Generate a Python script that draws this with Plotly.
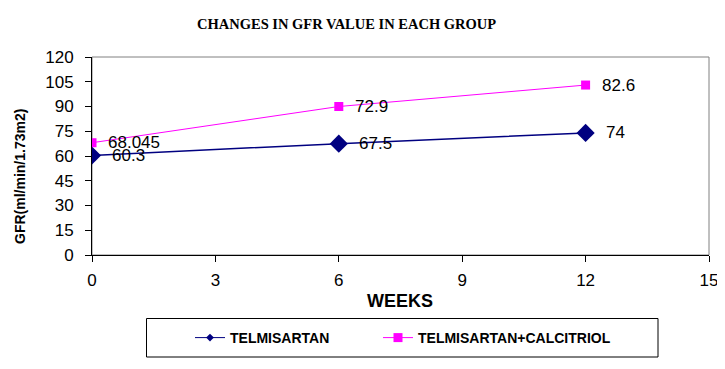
import plotly.graph_objects as go

weeks = [0, 6, 12]
telmisartan = [60.3, 67.5, 74]
telmisartan_labels = ["60.3", "67.5", "74"]
combo = [68.045, 90.0, 103.0]
combo_labels = ["68.045", "72.9", "82.6"]

x_ticks = [0, 3, 6, 9, 12, 15]
y_ticks = [0, 15, 30, 45, 60, 75, 90, 105, 120]

# the page body has an 8px margin, so the figure is drawn 8px smaller and
# all target pixel positions below are given in window coordinates minus 8
OFF = 8
W, H = 725 - OFF, 369 - OFF
L, R, T, B = 92 - OFF, 709 - OFF, 57 - OFF, 255 - OFF  # plot area


def px(x):
    return (x - OFF - L) / (R - L)


def py(y):
    return (B - (y - OFF)) / (B - T)


fig = go.Figure()
fig.add_trace(go.Scatter(
    x=weeks, y=telmisartan, name="TELMISARTAN", mode="lines+markers",
    line=dict(color="#000080", width=1.5),
    marker=dict(symbol="diamond", size=14, color="#000080"),
    showlegend=False,
))
fig.add_trace(go.Scatter(
    x=weeks, y=combo, name="TELMISARTAN+CALCITRIOL", mode="lines+markers",
    line=dict(color="#FF00FF", width=1),
    marker=dict(symbol="square", size=9, color="#FF00FF"),
    showlegend=False,
))
# legend entries (smaller symbols as in the reference legend)
fig.add_trace(go.Scatter(
    x=[None], y=[None], name="<b>TELMISARTAN</b>", mode="lines+markers",
    line=dict(color="#000080", width=1),
    marker=dict(symbol="diamond", size=6, color="#000080"),
    legend="legend",
))
fig.add_trace(go.Scatter(
    x=[None], y=[None], name="<b>TELMISARTAN+CALCITRIOL</b>", mode="lines+markers",
    line=dict(color="#FF00FF", width=1),
    marker=dict(symbol="square", size=9, color="#FF00FF"),
    legend="legend2",
))

annotations = []
for xv, yv, t in zip(weeks, telmisartan, telmisartan_labels):
    annotations.append(dict(x=xv, y=yv, text=t, xref="x", yref="y", showarrow=False,
                            xanchor="left", yanchor="middle", xshift=18,
                            font=dict(family="Arial", size=17, color="black")))
for xv, yv, t in zip(weeks, combo, combo_labels):
    annotations.append(dict(x=xv, y=yv, text=t, xref="x", yref="y", showarrow=False,
                            xanchor="left", yanchor="middle", xshift=14,
                            font=dict(family="Arial", size=17, color="black")))

annotations.append(dict(text="<b>CHANGES IN GFR VALUE IN EACH GROUP</b>", xref="paper", yref="paper",
                        x=px(346), y=py(24), showarrow=False,
                        xanchor="center", yanchor="middle",
                        font=dict(family="Liberation Serif", size=14.5, color="black")))
annotations.append(dict(text="<b>GFR(ml/min/1.73m2)</b>", xref="paper", yref="paper",
                        x=px(20), y=py(177), showarrow=False,
                        xanchor="center", yanchor="middle", textangle=-90,
                        font=dict(family="Arial", size=14, color="black")))
annotations.append(dict(text="<b>WEEKS</b>", xref="paper", yref="paper",
                        x=px(400), y=py(301), showarrow=False,
                        xanchor="center", yanchor="middle",
                        font=dict(family="Arial", size=18, color="black")))

shapes = [
    dict(type="rect", xref="paper", yref="paper", x0=0, x1=1, y0=0, y1=1,
         line=dict(color="#808080", width=1), layer="below"),
    dict(type="rect", xref="paper", yref="paper",
         x0=px(146.5), x1=px(658), y0=py(357), y1=py(318.5),
         line=dict(color="black", width=1), fillcolor="rgba(0,0,0,0)"),
]

legend_font = dict(family="Arial", size=14, color="black")
fig.update_layout(
    width=W, height=H,
    margin=dict(l=L, r=W - R, t=T, b=H - B, autoexpand=False),
    paper_bgcolor="white", plot_bgcolor="white",
    showlegend=True,
    legend=dict(xref="container", yref="container", x=(190 - OFF) / W, y=1 - (338 - OFF) / H,
                xanchor="left", yanchor="middle", orientation="h",
                font=legend_font, bgcolor="rgba(0,0,0,0)", borderwidth=0),
    legend2=dict(xref="container", yref="container", x=(378 - OFF) / W, y=1 - (338 - OFF) / H,
                 xanchor="left", yanchor="middle", orientation="h",
                 font=legend_font, bgcolor="rgba(0,0,0,0)", borderwidth=0),
    annotations=annotations,
    shapes=shapes,
    xaxis=dict(range=[0, 15], tickvals=x_ticks, ticktext=[str(v) for v in x_ticks],
               showgrid=False, zeroline=False, showline=True, linecolor="black", linewidth=1,
               ticks="outside", ticklen=6, tickcolor="black", ticklabelstandoff=4,
               tickfont=dict(family="Arial", size=17, color="black")),
    yaxis=dict(range=[0, 120], tickvals=y_ticks, ticktext=[str(v) for v in y_ticks],
               showgrid=False, zeroline=False, showline=True, linecolor="black", linewidth=1,
               ticks="outside", ticklen=6, tickcolor="black", ticklabelstandoff=8,
               tickfont=dict(family="Arial", size=17, color="black")),
)

fig.write_html("out.html")
